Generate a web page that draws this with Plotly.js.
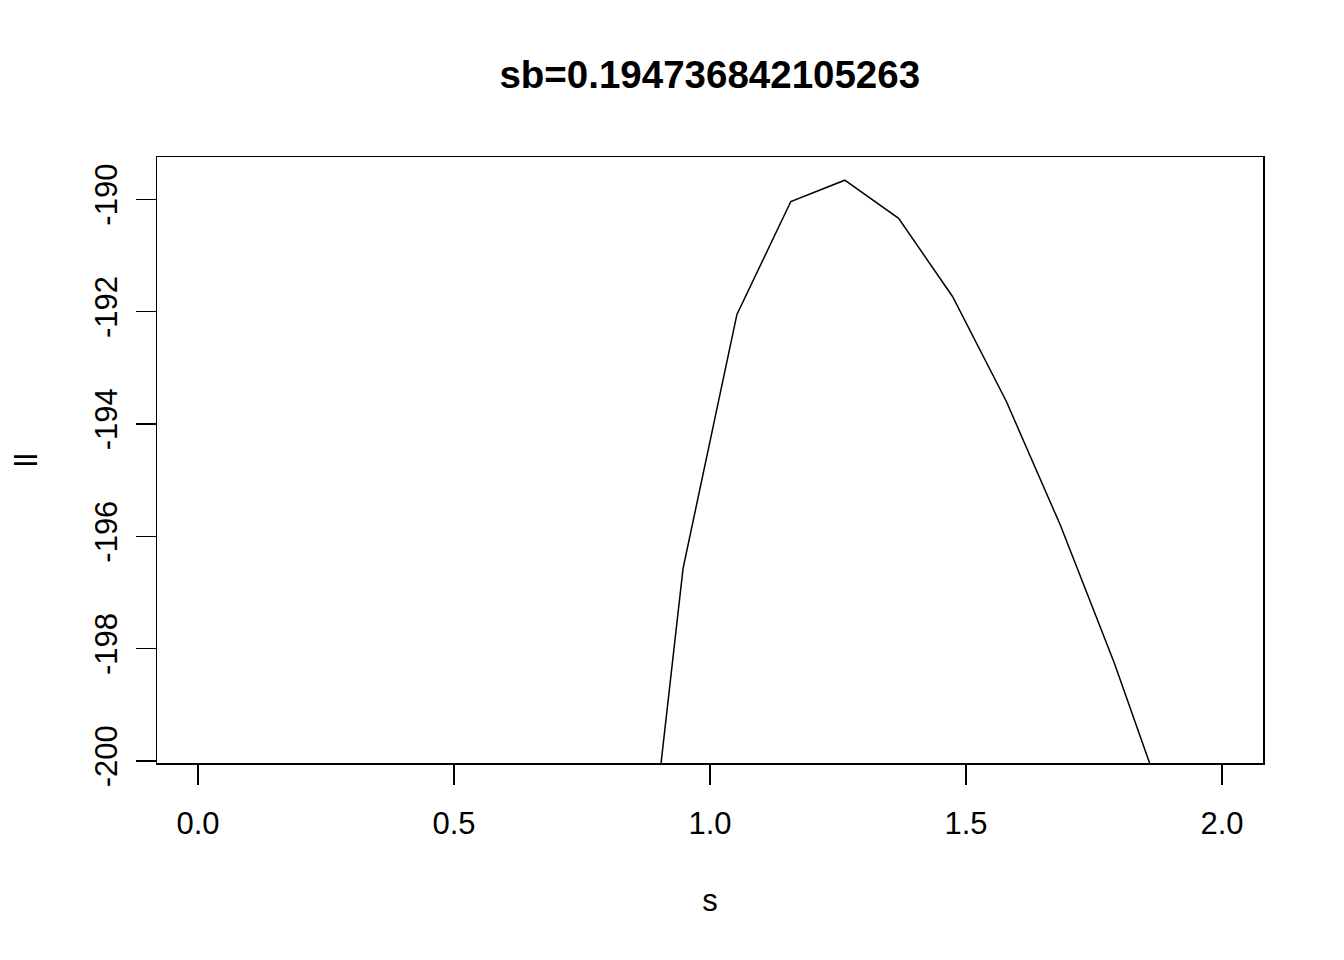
<!DOCTYPE html>
<html>
<head>
<meta charset="utf-8">
<script src="https://cdn.plot.ly/plotly-3.0.1.min.js"></script>
<style>html,body{margin:0;padding:0;background:#fff;}#chart{width:1344px;height:960px;}</style>
</head>
<body>
<div id="chart"></div>
<script>
// x values (s) and log-likelihood values (ll)
const s = [0.8421, 0.9474, 1.0526, 1.1579, 1.2632, 1.3684, 1.4737, 1.5789, 1.6842, 1.7895, 1.8947];
const ll = [-205.06, -196.57, -192.05, -190.04, -189.66, -190.34, -191.73, -193.60, -195.80, -198.25, -200.97];
const xTicks = [0, 0.5, 1, 1.5, 2];
const xTickText = ["0.0", "0.5", "1.0", "1.5", "2.0"];
const yTicks = [-200, -198, -196, -194, -192, -190];
const yTickText = ["-200", "-198", "-196", "-194", "-192", "-190"];
const titleText = "sb=0.194736842105263";

const FONT = "Liberation Sans, Arial, Helvetica, sans-serif";

const trace = {
  x: s, y: ll, type: "scatter", mode: "lines",
  line: {color: "#000", width: 1.5},
  hoverinfo: "skip"
};

const layout = {
  width: 1344, height: 960,
  paper_bgcolor: "#fff", plot_bgcolor: "#fff",
  margin: {l: 157, r: 81, t: 157, b: 197},
  showlegend: false,
  font: {family: FONT, color: "#000", size: 31},
  title: {
    text: "<b>" + titleText + "</b>",
    font: {family: FONT, size: 38.5, color: "#000"},
    x: 0.5281, xanchor: "center", y: 1 - 88/960, yanchor: "bottom", yref: "container"
  },
  xaxis: {
    range: [-0.0801, 2.0801],
    tickvals: xTicks, ticktext: xTickText,
    ticks: "outside", ticklen: 20, tickwidth: 1.3, tickcolor: "#000",
    showline: true, mirror: true, linecolor: "#000", linewidth: 1.5,
    showgrid: false, zeroline: false,
    tickfont: {family: FONT, size: 31, color: "#000"},
    ticklabelstandoff: 12,
    title: {text: "s", font: {family: FONT, size: 31, color: "#000"}, standoff: 49}
  },
  yaxis: {
    range: [-200.036, -189.247],
    tickvals: yTicks, ticktext: yTickText,
    tickangle: -90,
    ticks: "outside", ticklen: 20, tickwidth: 1.3, tickcolor: "#000",
    showline: true, mirror: true, linecolor: "#000", linewidth: 1.5,
    showgrid: false, zeroline: false,
    tickfont: {family: FONT, size: 31, color: "#000"},
    ticklabelstandoff: 6,
    title: {text: "ll", font: {family: FONT, size: 31, color: "#000"}, standoff: 42}
  }
};

Plotly.newPlot("chart", [trace], layout, {displayModeBar: false, staticPlot: true});
</script>
</body>
</html>
